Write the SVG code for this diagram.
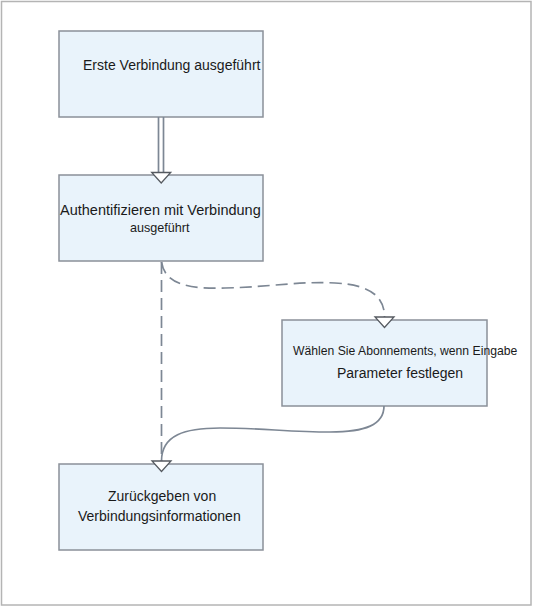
<svg xmlns="http://www.w3.org/2000/svg" width="533" height="608" viewBox="0 0 533 608">
<style>
.frame{fill:#ffffff;stroke:#b4b4b4;stroke-width:1.5}
.box{fill:#e9f3fb;stroke:#8a9099;stroke-width:1.5}
.lbl{font-family:"Liberation Sans",Arial,sans-serif;font-size:14px;fill:#1a1a1a}
.conn{fill:none;stroke:#7d8794;stroke-width:1.7}
.dash{stroke-dasharray:12 6}
.head{fill:#ffffff;stroke:#555a60;stroke-width:1.3;stroke-linejoin:miter}
</style>
<defs>
<path id="tri" d="M-9.5,0 L9.5,0 L0,10.5 Z"/>
</defs>
<rect class="frame" x="1.5" y="1.5" width="529.5" height="603.5"/>
<g id="nodes">
<g id="n1">
<rect class="box" x="59" y="31" width="204" height="86"/>
<text class="lbl" x="83" y="70">Erste Verbindung ausgeführt</text>
</g>
<g id="n2">
<rect class="box" x="59" y="175" width="204" height="86"/>
<text class="lbl" x="60" y="215" style="font-size:14.5px">Authentifizieren mit Verbindung</text>
<text class="lbl" x="130" y="232" style="font-size:12.6px">ausgeführt</text>
</g>
<g id="n3">
<rect class="box" x="282" y="320" width="205" height="86"/>
<text class="lbl" x="293" y="355" style="font-size:12.2px">Wählen Sie Abonnements, wenn Eingabe</text>
<text class="lbl" x="337" y="378">Parameter festlegen</text>
</g>
<g id="n4">
<rect class="box" x="59" y="464" width="204" height="86"/>
<text class="lbl" x="108" y="501">Zurückgeben von</text>
<text class="lbl" x="78" y="521">Verbindungsinformationen</text>
</g>
</g>
<g id="connectors">
<line class="conn" x1="158.5" y1="117" x2="158.5" y2="173"/>
<line class="conn" x1="163.5" y1="117" x2="163.5" y2="173"/>
<use href="#tri" class="head" transform="translate(161.2,172.5)"/>
<path class="conn dash" d="M161.5,262 L161.5,461"/>
<path class="conn dash" d="M161.5,262 C165,285 190,289 225,288 C270,287 300,281 335,283 C375,285 384.5,300 384.5,317"/>
<use href="#tri" class="head" transform="translate(384.5,317)"/>
<path class="conn" d="M384,406 C384,425 365,432 330,432 C290,432 260,428 220,428 C185,428 161.5,435 161.5,461"/>
<use href="#tri" class="head" transform="translate(161.5,461)"/>
</g>
</svg>
